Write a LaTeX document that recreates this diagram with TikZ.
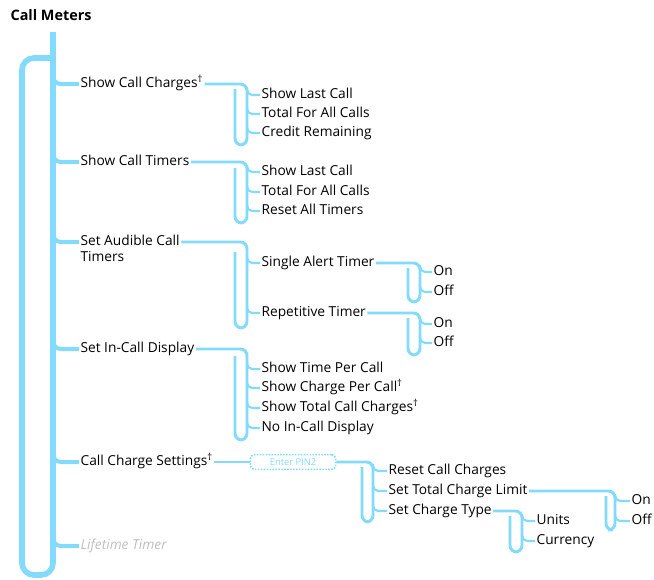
\documentclass[tikz,border=0pt]{standalone}
\usepackage{fontspec}
\setsansfont{Open Sans}
\usepackage{tikz}
\usetikzlibrary{positioning, calc}
\definecolor{wirec}{RGB}{130,218,252}

\begin{document}
\begin{tikzpicture}[
    x=0.75pt, y=-0.75pt,
    item/.style={anchor=west, inner sep=1pt, text height=1.6ex, text depth=0.4ex,
                 font=\sffamily\fontsize{10.3}{12}\selectfont},
    mainwire/.style={draw=wirec, line width=4.2pt, rounded corners=9pt},
    mtick/.style={draw=wirec, line width=3pt, rounded corners=6pt},
    wire/.style={draw=wirec, line width=2.2pt, rounded corners=5pt},
    tick/.style={draw=wirec, line width=1.6pt, rounded corners=4pt}
]
\useasboundingbox (0,0) rectangle (654,579);
\node[item, font=\sffamily\bfseries\fontsize{10.8}{12}\selectfont] (title) at (9,17) {Call Meters};

% top level menu
\node[item] (charges) at (79,84) {Show Call Charges\textsuperscript{†}};
\node[item] (timers) at (79,162) {Show Call Timers};
\node[item] (audible) at (79,242) {Set Audible Call};
\node[item] (audible2) at (79,258) {Timers};
\node[item] (incall) at (79,349) {Set In-Call Display};
\node[item] (settings) at (79,462) {Call Charge Settings\textsuperscript{†}};
\node[item, text=gray!50, font=\sffamily\itshape\fontsize{10.3}{12}\selectfont] (lifetime) at (79,546) {Lifetime Timer};

\coordinate (m0) at (53,32);
\coordinate (m1) at (53,575);
\coordinate (m2) at (22,58);
\draw[mainwire] (m0) -- (m1) -| (m2) -- (m2 -| m0);
\foreach \n in {charges,timers,audible,incall,settings,lifetime} {
    \draw[mtick] ($(\n.west -| m0)+(0,-10)$) |- (\n.west);
}

% show call charges
\node[item] (ch1) at (260,95) {Show Last Call};
\node[item] (ch2) at (260,114) {Total For All Calls};
\node[item] (ch3) at (260,133) {Credit Remaining};
\coordinate (ca1) at (247,145);
\coordinate (ca2) at (235,89);
\draw[wire] (charges.east) -| (ca1) -| (ca2);

% show call timers
\node[item] (ti1) at (260,172) {Show Last Call};
\node[item] (ti2) at (260,192) {Total For All Calls};
\node[item] (ti3) at (260,211) {Reset All Timers};
\coordinate (tb1) at (247,223);
\coordinate (tb2) at (235,168);
\draw[wire] (timers.east) -| (tb1) -| (tb2);

% audible timers
\node[item] (single) at (260,263) {Single Alert Timer};
\node[item] (repet) at (260,313) {Repetitive Timer};
\coordinate (au1) at (247,328);
\coordinate (au2) at (235,252);
\draw[wire] (audible.east) -| (au1) -| (au2);

\node[item] (son) at (432,272) {On};
\node[item] (soff) at (432,292) {Off};
\coordinate (sa1) at (420,302);
\coordinate (sa2) at (408,268);
\draw[wire] (single.east) -| (sa1) -| (sa2);

\node[item] (ron) at (432,324) {On};
\node[item] (roff) at (432,343) {Off};
\coordinate (re1) at (420,355);
\coordinate (re2) at (408,318);
\draw[wire] (repet.east) -| (re1) -| (re2);

% in-call display
\node[item] (ic1) at (260,369) {Show Time Per Call};
\node[item] (ic2) at (260,388) {Show Charge Per Call\textsuperscript{†}};
\node[item] (ic3) at (260,408) {Show Total Call Charges\textsuperscript{†}};
\node[item] (ic4) at (260,428) {No In-Call Display};
\coordinate (id1) at (247,440);
\coordinate (id2) at (235,356);
\draw[wire] (incall.east) -| (id1) -| (id2);

% call charge settings
\node[draw=wirec, densely dotted, line width=1.2pt, rounded corners=3pt,
      minimum width=64pt, minimum height=11pt, inner sep=0pt, text=wirec,
      font=\sffamily\fontsize{7}{8}\selectfont] (pin) at (293,462) {Enter PIN2};
\draw[draw=wirec, line width=1.6pt] (settings.east) -- (pin.west);
\node[item] (cs1) at (387,471) {Reset Call Charges};
\node[item] (cs2) at (387,491) {Set Total Charge Limit};
\node[item] (cs3) at (387,511) {Set Charge Type};
\coordinate (cc1) at (373,522);
\coordinate (cc2) at (362,467);
\draw[wire] (pin.east) -| (cc1) -| (cc2);

\node[item] (lon) at (630,501) {On};
\node[item] (loff) at (630,521) {Off};
\coordinate (li1) at (615,530);
\coordinate (li2) at (606,496);
\draw[wire] (cs2.east) -| (li1) -| (li2);

\node[item] (units) at (535,521) {Units};
\node[item] (curr) at (535,541) {Currency};
\coordinate (ct1) at (522,552);
\coordinate (ct2) at (510,516);
\draw[wire] (cs3.east) -| (ct1) -| (ct2);

% small ticks to the sub items
\foreach \n/\c in {ch1/ca1,ch2/ca1,ch3/ca1,ti1/tb1,ti2/tb1,ti3/tb1,
                   single/au1,repet/au1,son/sa1,soff/sa1,ron/re1,roff/re1,
                   ic1/id1,ic2/id1,ic3/id1,ic4/id1,cs1/cc1,cs2/cc1,cs3/cc1,
                   lon/li1,loff/li1,units/ct1,curr/ct1} {
    \draw[tick] ($(\n.west -| \c)+(0,-7)$) |- (\n.west);
}
\end{tikzpicture}
\end{document}
